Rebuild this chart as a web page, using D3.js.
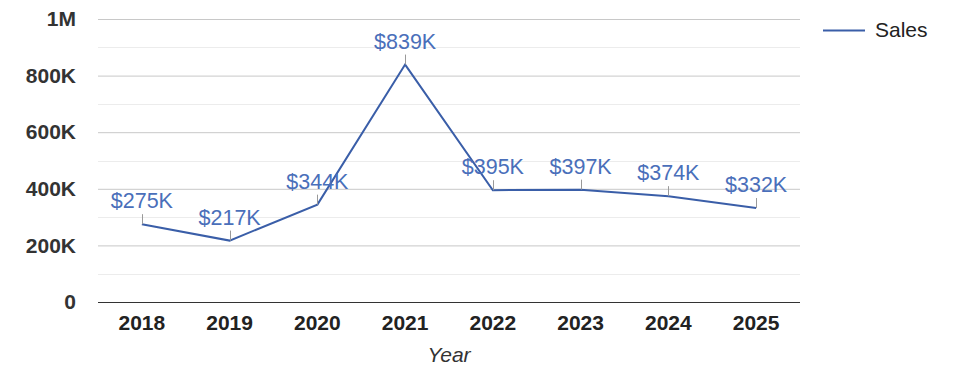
<!DOCTYPE html>
<html>
<head>
<meta charset="utf-8">
<script src="https://cdn.jsdelivr.net/npm/d3@7"></script>
<style>
	body{margin:0;background:#fff;}
	svg{display:block;font-family:"Liberation Sans",Arial,sans-serif;}
</style>
</head>
<body>
<svg id="chart" width="975" height="378"></svg>
<script>
var years = ["2018","2019","2020","2021","2022","2023","2024","2025"];
var sales = [275000,217000,344000,839000,395000,397000,374000,332000];
var yTicks = [0,200000,400000,600000,800000,1000000];
var yTickLabels = ["0","200K","400K","600K","800K","1M"];
var minorTicks = [100000,300000,500000,700000,900000];

var svg = d3.select("#chart");
var plotLeft = 98, plotRight = 800, plotTop = 19, plotBottom = 302;

var x = d3.scaleBand().domain(years).range([plotLeft, plotRight]);
var y = d3.scaleLinear().domain([0, 1000000]).range([plotBottom, plotTop]);

// minor grid
svg.append("g").selectAll("line").data(minorTicks).enter().append("line")
	.attr("x1", plotLeft).attr("x2", plotRight)
	.attr("y1", function(d){ return Math.round(y(d)) + 0.5; })
	.attr("y2", function(d){ return Math.round(y(d)) + 0.5; })
	.attr("stroke", "#ececec").attr("stroke-width", 1);

// y axis with major grid
var yAxis = d3.axisLeft(y).tickValues(yTicks)
	.tickSize(-(plotRight - plotLeft)).tickPadding(22)
	.tickFormat(function(d, i){ return yTickLabels[i]; });
var gy = svg.append("g").attr("transform", "translate(" + plotLeft + ",0)").call(yAxis);
gy.select(".domain").remove();
gy.selectAll(".tick line").attr("stroke", "#c8c8c8");
gy.selectAll(".tick text").attr("fill", "#333").style("font-size", "21px")
	.style("font-weight", "bold").attr("font-family", null);

// baseline
svg.append("line").attr("x1", plotLeft).attr("x2", plotRight)
	.attr("y1", plotBottom + 0.5).attr("y2", plotBottom + 0.5)
	.attr("stroke", "#333").attr("stroke-width", 1.2);

// x axis
var xAxis = d3.axisBottom(x).tickSize(0).tickPadding(13);
var gx = svg.append("g").attr("transform", "translate(0," + plotBottom + ")").call(xAxis);
gx.select(".domain").remove();
gx.selectAll(".tick text").attr("fill", "#222").style("font-size", "21px")
	.style("font-weight", "bold").attr("font-family", null);

svg.append("text").attr("x", (plotLeft + plotRight) / 2).attr("y", 362)
	.attr("text-anchor", "middle").style("font-size", "21px")
	.style("font-style", "italic").attr("fill", "#333").text("Year");

// line
var cx = function(d, i){ return x(years[i]) + x.bandwidth() / 2; };
var line = d3.line().x(function(d, i){ return cx(d, i); }).y(function(d){ return y(d); });
svg.append("path").datum(sales).attr("d", line)
	.attr("fill", "none").attr("stroke", "#3a5ea8").attr("stroke-width", 2);

// labels with leaders
var lab = svg.append("g").selectAll("g").data(sales).enter().append("g");
lab.append("line")
	.attr("x1", function(d, i){ return Math.round(cx(d, i)) + 0.5; })
	.attr("x2", function(d, i){ return Math.round(cx(d, i)) + 0.5; })
	.attr("y1", function(d){ return y(d) - 10; })
	.attr("y2", function(d){ return y(d); })
	.attr("stroke", "#999").attr("stroke-width", 1);
lab.append("text")
	.attr("x", function(d, i){ return cx(d, i); })
	.attr("y", function(d){ return y(d) - 16; })
	.attr("text-anchor", "middle").style("font-size", "21.5px")
	.attr("fill", "#4a6fba")
	.text(function(d){ return "$" + Math.round(d / 1000) + "K"; });

// legend
svg.append("line").attr("x1", 823).attr("x2", 865).attr("y1", 30.5).attr("y2", 30.5)
	.attr("stroke", "#3a5ea8").attr("stroke-width", 2);
svg.append("text").attr("x", 875).attr("y", 37).style("font-size", "21px")
	.attr("fill", "#222").text("Sales");
</script>
</body>
</html>
